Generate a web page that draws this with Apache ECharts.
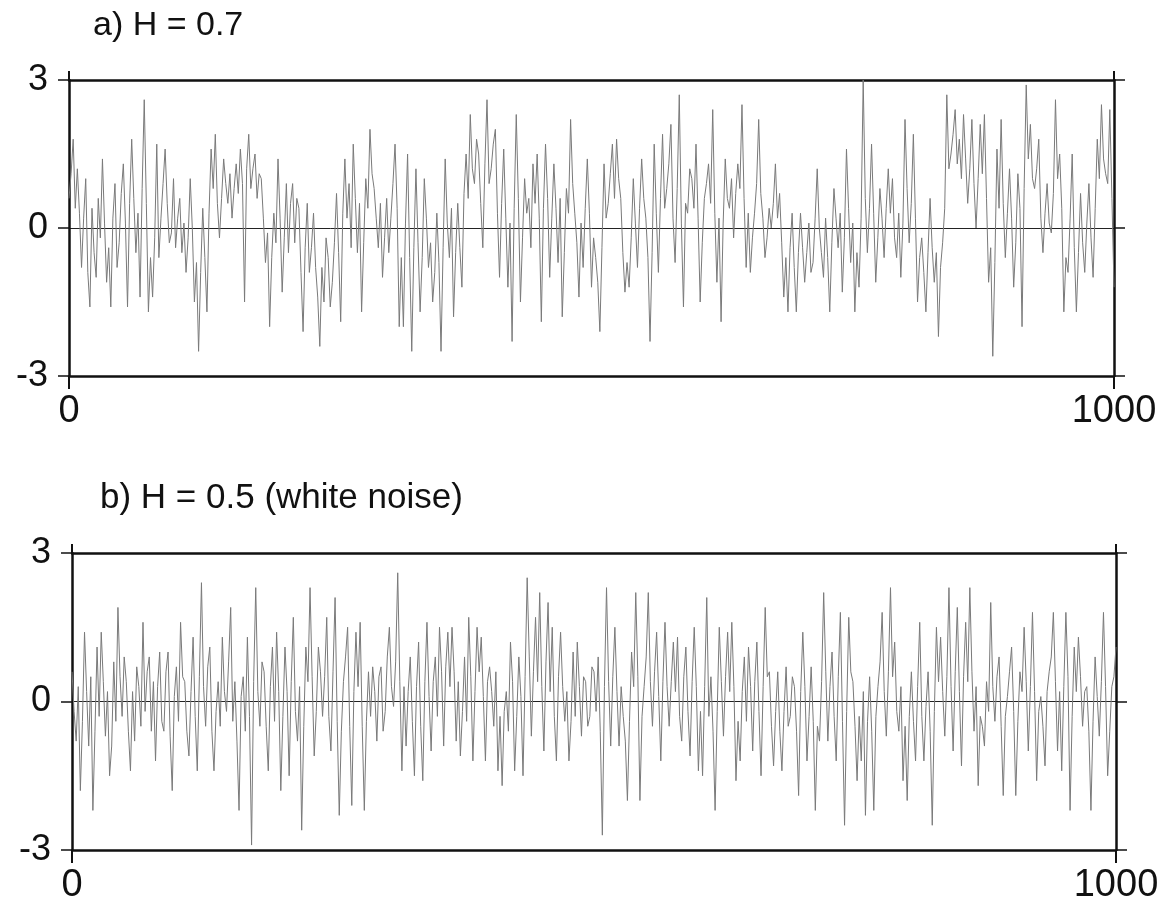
<!DOCTYPE html>
<html>
<head>
<meta charset="utf-8">
<script src="https://cdn.jsdelivr.net/npm/echarts@6/dist/echarts.min.js"></script>
<style>
html,body{margin:0;padding:0;background:#fff;}
#chart{width:1167px;height:908px;}
</style>
</head>
<body>
<div id="chart"></div>
<script>
// Panel titles
const titles = ['a) H = 0.7', 'b) H = 0.5 (white noise)'];
// Axis ranges / tick values
const xTicks = [0, 1000];
const yTicks = [-3, 0, 3];
// Sample spacing along the x axis (values read every 2 samples)
const sampleStep = 2;

// a) H = 0.7 series (values read from the figure)
const seriesA = [
 0.6,1.1,1.8,0.4,1.2,0.3,-0.8,0.2,1.0,-0.9,-1.6,0.4,-0.5,-1.0,0.6,-0.2,1.4,0.1,-1.1,-0.4,
 -1.6,0.2,0.9,-0.8,-0.3,0.7,1.3,0.1,-1.6,0.5,1.8,0.6,-0.5,0.3,-1.4,0.8,2.6,0.5,-1.7,-0.6,
 -1.4,-0.2,1.7,-0.6,0.2,0.9,1.6,0.5,-0.3,-0.1,1.0,-0.4,0.2,0.6,-0.5,0.1,-0.9,-0.2,1.0,0.0,
 -1.5,-0.7,-2.5,-0.9,0.4,-0.6,-1.7,0.3,1.6,0.8,1.9,0.5,-0.2,0.6,1.4,0.9,0.5,1.1,0.2,0.8,
 1.3,0.7,1.6,0.9,-1.5,1.2,1.9,0.8,1.2,1.5,0.6,1.1,1.0,0.2,-0.7,-0.1,-2.0,-0.6,0.3,-0.3,
 1.4,0.2,-1.3,-0.2,0.9,-0.5,0.5,0.9,-0.3,0.6,0.4,-0.9,-2.1,-0.4,0.5,-0.9,-0.4,0.3,-0.8,-1.4,
 -2.4,-0.8,-1.5,-0.2,-0.6,-1.6,-1.1,-0.3,0.7,-0.5,-1.9,0.3,1.4,0.2,0.9,-0.4,1.7,0.6,-0.5,0.5,
 -1.7,-0.3,1.0,0.4,2.0,1.1,0.8,0.2,-0.4,0.5,-1.0,-0.2,0.6,-0.5,0.2,0.9,1.7,0.4,-2.0,-0.6,
 -2.0,0.1,1.5,-0.6,-2.5,-0.4,1.2,-0.3,-1.7,-0.6,1.0,0.2,-0.8,-0.3,-1.5,-0.9,0.3,-0.7,-2.5,-0.4,
 1.4,0.1,-0.6,0.4,-1.8,-0.5,0.5,-0.4,-1.2,0.7,1.5,0.6,2.3,1.2,0.9,1.8,1.5,0.5,-0.4,1.3,
 2.6,0.9,1.2,1.7,2.0,0.3,-1.0,0.5,1.6,0.2,-1.2,0.1,-2.3,0.4,2.3,0.6,-1.5,-0.2,1.0,0.3,
 0.6,-0.4,1.3,0.5,1.5,0.2,-1.9,0.4,1.7,0.6,-1.0,0.2,1.3,0.4,-0.7,0.6,-1.8,-0.5,0.8,0.3,
 2.2,0.9,0.3,-0.3,-1.4,0.1,-0.8,0.4,1.4,0.3,-1.2,-0.2,-0.6,-1.1,-2.1,-0.4,1.3,0.2,0.5,1.1,
 1.7,0.6,1.8,1.0,0.6,-0.5,-1.3,-0.7,-1.2,-0.2,1.0,0.1,-0.8,0.4,1.4,0.6,0.2,-0.6,-2.3,-0.5,
 1.7,0.3,-0.9,0.6,1.9,0.4,0.8,1.3,2.1,0.2,-0.7,0.8,2.7,0.1,-1.6,0.5,0.3,1.2,1.0,0.4,
 1.7,0.2,-1.5,-0.3,0.6,0.9,1.3,0.5,2.4,0.3,-1.1,0.2,-1.9,0.1,1.4,0.6,0.4,1.0,-0.2,0.7,
 1.3,0.8,2.5,0.6,-0.8,0.3,-0.9,-0.2,0.3,0.9,2.2,0.7,0.2,-0.6,-0.2,0.4,0.0,0.5,1.3,0.2,
 0.7,-0.3,-1.4,-0.6,-1.7,-0.4,0.3,-0.8,-1.7,-0.5,0.3,-0.4,-1.1,-0.5,0.1,-0.9,-0.7,0.2,1.2,0.0,
 -0.5,-1.0,0.2,-0.6,-1.7,-0.3,0.8,0.2,-0.4,0.3,-1.3,-0.2,1.6,0.4,-0.7,0.1,-1.7,-0.5,-1.2,0.2,
 3.0,0.6,-0.5,0.4,1.7,0.3,-1.1,-0.2,0.8,0.2,-0.6,0.4,1.2,0.3,1.0,-0.2,-0.6,0.3,-1.0,0.1,
 2.2,0.8,-0.3,0.5,1.9,0.2,-1.5,-0.6,-0.2,-0.9,-1.7,-0.5,0.6,-0.4,-1.1,-0.5,-2.2,-0.8,-0.3,0.4,
 2.7,1.2,1.5,1.9,2.4,1.3,1.8,1.0,2.3,1.4,0.5,1.2,2.2,0.9,0.0,1.0,2.1,1.1,2.3,0.6,
 -1.1,-0.4,-2.6,-0.7,1.6,0.4,2.2,0.5,-0.6,0.3,1.2,0.2,-1.2,-0.3,1.1,0.4,-2.0,0.8,2.9,1.4,
 2.1,1.0,0.8,1.2,1.8,0.2,-0.5,0.3,0.9,0.1,-0.1,0.7,2.6,1.0,1.5,0.4,-1.7,-0.6,-0.9,0.2,
 1.5,-0.4,-1.7,-0.5,0.7,-0.3,-0.9,0.1,0.9,-0.2,-1.0,0.4,1.8,1.0,2.5,1.4,1.1,0.9,2.4,0.6,
 -1.2
];

// b) H = 0.5 (white noise) series (values read from the figure)
const seriesB = [
 0.6,-0.2,-0.8,0.3,-1.8,-0.4,1.4,0.2,-0.9,0.5,-2.2,-0.6,1.1,-0.3,1.4,0.4,-0.7,0.2,-1.5,-0.9,
 0.8,-0.4,1.9,0.5,-0.3,0.9,0.4,-0.6,-1.4,0.2,-0.8,0.7,0.3,-0.5,1.6,-0.2,0.6,0.9,-0.6,0.4,
 -1.2,0.3,1.0,-0.4,-0.6,0.6,1.0,-0.7,-1.8,0.1,0.7,-0.4,1.6,0.5,0.4,-0.6,-1.1,0.2,1.3,-0.3,
 -1.4,0.5,2.4,0.3,-0.5,0.7,1.1,-0.6,-1.4,-0.2,0.4,-0.5,1.3,0.2,-0.2,0.8,1.9,-0.4,0.4,-0.8,
 -2.2,0.1,0.5,-0.6,1.3,-0.3,-2.9,0.4,2.3,0.2,-0.5,0.8,0.6,-0.5,-1.4,0.3,1.1,-0.4,1.4,0.2,
 -1.8,-0.3,1.1,0.2,-1.5,0.4,1.7,-0.2,-0.8,0.3,-2.6,-0.5,1.1,0.4,2.3,0.5,-1.1,-0.2,1.1,0.6,
 -0.3,0.5,1.7,-0.3,-1.0,0.6,2.1,-0.4,-2.3,-0.6,0.4,0.9,1.5,-0.5,-2.1,0.2,1.4,0.3,1.6,-0.5,
 -2.2,-0.4,0.6,-0.3,0.7,0.2,-0.8,0.5,0.7,-0.6,-0.2,0.9,1.5,0.3,-0.1,0.8,2.6,0.4,-1.4,0.3,
 -0.9,0.2,0.9,-0.4,-1.5,0.3,1.2,-0.5,-1.6,0.4,1.6,0.1,-1.0,0.4,0.9,-0.3,1.5,0.6,-0.9,0.7,
 1.4,0.3,1.5,0.6,-0.8,0.4,-1.1,-0.2,0.9,-0.4,1.7,0.5,-1.2,0.2,1.5,0.6,1.3,0.1,-1.2,0.4,
 0.7,0.2,-0.5,0.6,-1.4,-0.3,-1.7,-0.2,0.2,-0.6,1.2,0.4,-1.4,-0.3,0.9,0.1,-1.5,0.5,2.5,0.9,
 -0.7,0.6,1.7,0.4,2.2,0.3,-1.0,0.8,2.0,0.2,1.5,-0.3,-1.2,0.5,1.4,0.3,-0.4,0.2,-1.2,-0.4,
 1.0,-0.3,1.2,0.3,-0.7,0.5,0.4,-0.5,-0.3,0.7,0.6,-0.2,0.9,-0.6,-2.7,0.3,2.3,0.4,-0.9,0.5,
 1.5,0.2,-0.9,0.3,-0.3,-0.8,-2.0,-0.4,1.0,0.3,2.2,0.5,-2.0,-0.3,0.3,0.9,2.2,0.4,-0.5,0.6,
 1.4,0.1,-1.2,0.4,1.6,0.3,-0.5,0.4,1.2,0.2,1.3,-0.3,-0.8,0.5,1.1,-0.2,-1.1,0.4,1.5,0.3,
 -1.4,-0.2,-1.5,0.3,2.1,-0.3,0.5,-0.6,-2.2,-0.2,1.5,0.4,-0.7,0.5,1.4,0.2,1.6,0.3,-1.6,-0.4,
 -1.2,0.2,0.9,-0.4,1.1,0.3,-1.0,0.4,1.2,-0.2,-1.5,0.3,1.9,0.5,0.6,-0.5,-1.3,-0.2,0.6,-0.6,
 -1.4,-0.2,0.7,-0.5,-0.3,0.5,0.3,-0.6,-1.9,0.2,1.4,0.3,-1.2,-0.3,0.7,-0.4,-2.2,-0.5,-0.8,0.4,
 2.2,0.6,-0.8,0.3,1.0,-0.3,-1.2,0.5,1.8,-0.4,-2.5,-0.2,1.7,0.6,0.4,-0.5,-1.6,-0.3,-1.2,0.2,
 -2.3,-0.4,0.5,-0.6,-2.2,-0.3,0.3,0.8,1.8,0.2,-0.7,0.6,2.3,0.5,1.2,-0.2,-0.6,0.3,-1.6,-0.5,
 -2.0,-0.3,0.6,-0.4,-1.2,0.3,1.6,-0.3,-1.2,-0.1,0.6,-0.6,-2.5,-0.2,1.5,0.4,1.3,0.2,-0.7,0.5,
 2.3,0.3,-1.0,0.6,1.9,0.2,-1.3,0.5,1.6,0.4,2.3,0.6,-0.6,0.3,-1.7,-0.3,-0.5,-0.9,0.4,-0.2,
 2.0,0.3,-0.4,0.5,0.9,-0.5,-1.9,-0.3,0.1,0.6,1.1,-0.2,-1.9,-0.4,0.6,0.2,1.5,0.4,-1.0,0.3,
 1.8,0.2,-1.6,-0.2,0.1,-0.5,-1.3,0.2,0.6,0.9,1.8,0.4,-1.0,0.2,-1.4,0.3,1.8,0.5,-2.2,-0.3,
 1.1,0.2,1.3,0.5,-0.5,0.2,0.3,-0.6,-2.2,-0.4,0.9,0.1,-0.7,0.4,1.8,0.3,-1.5,-0.6,0.3,0.5,
 1.1
];

const FONT = '"Liberation Sans", Arial, Helvetica, sans-serif';
const INK = '#111';

function pairs(arr){ return arr.map((v,i)=>[i*sampleStep, v]); }

function xAx(gridIndex, pos, showLabels){
  return {
    type:'value', gridIndex, position:pos, min:xTicks[0], max:xTicks[1], interval:xTicks[1]-xTicks[0],
    axisLine:{show:true, onZero:false, lineStyle:{color:INK, width:2.5}},
    axisTick:{show:true, inside:false, length:pos==='bottom'?13:9, lineStyle:{color:INK, width:2}},
    axisLabel:{show:showLabels, fontSize:38, color:INK, fontFamily:FONT, margin:17,
               formatter:function(v){ return String(v); }},
    splitLine:{show:false}
  };
}
function yAx(gridIndex, pos, showLabels){
  return {
    type:'value', gridIndex, position:pos, min:yTicks[0], max:yTicks[2], interval:3,
    axisLine:{show:true, onZero:false, lineStyle:{color:INK, width:2.5}},
    axisTick:{show:true, inside:false, length:11, lineStyle:{color:INK, width:1.5}},
    axisLabel:{show:showLabels, fontSize:36, color:INK, fontFamily:FONT, margin:21,
               formatter:function(v){ return String(v); }},
    splitLine:{show:pos==='left', lineStyle:{color:'#222', width:1}}
  };
}

const chart = echarts.init(document.getElementById('chart'), null, {renderer:'canvas'});
chart.setOption({
  animation:false,
  backgroundColor:'#fff',
  title:[
    {text:titles[0], left:88, top:4, textStyle:{fontFamily:FONT, fontSize:34, fontWeight:'normal', color:INK}},
    {text:titles[1], left:95, top:476, textStyle:{fontFamily:FONT, fontSize:35, fontWeight:'normal', color:INK}}
  ],
  grid:[
    {left:69, top:80, width:1045, height:296},
    {left:72, top:553, width:1044, height:297}
  ],
  xAxis:[xAx(0,'bottom',true), xAx(0,'top',false), xAx(1,'bottom',true), xAx(1,'top',false)],
  yAxis:[yAx(0,'left',true), yAx(0,'right',false), yAx(1,'left',true), yAx(1,'right',false)],
  series:[
    {type:'line', xAxisIndex:0, yAxisIndex:0, data:pairs(seriesA), showSymbol:false, z:1,
     lineStyle:{color:'#7a7a7a', width:1}},
    {type:'line', xAxisIndex:2, yAxisIndex:2, data:pairs(seriesB), showSymbol:false, z:1,
     lineStyle:{color:'#7a7a7a', width:1}}
  ]
});
</script>
</body>
</html>
